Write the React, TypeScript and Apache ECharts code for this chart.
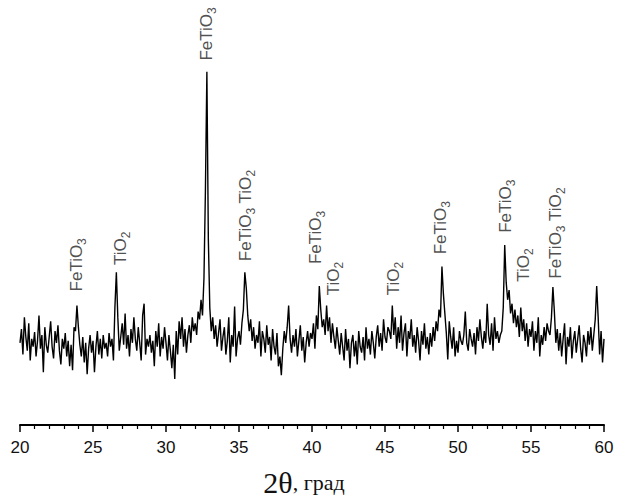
import React, { useEffect, useRef } from "react";
import * as echarts from "echarts";

// 2θ scan: start and step (degrees)
const angleStart = 20;
const angleStep = 0.1;

// Intensity (arbitrary units), one row per degree
const intensity: number[] = [
  84, 98, 72, 110, 90, 76, 104, 66, 88, 80,
  95, 70, 86, 112, 78, 92, 54, 100, 82, 74,
  90, 106, 80, 68, 96, 84, 102, 76, 62, 88,
  78, 94, 70, 86, 60, 82, 56, 100, 96, 122,
  100, 82, 70, 90, 64, 84, 52, 78, 92, 74,
  86, 54, 80, 96, 72, 88, 68, 92, 78, 84,
  70, 94, 80, 88, 66, 120, 156, 110, 76, 90,
  104, 82, 114, 78, 92, 70, 98, 84, 110, 88,
  76, 100, 84, 66, 112, 124, 72, 88, 80, 92,
  74, 86, 60, 96, 80, 104, 70, 90, 78, 100,
  84, 66, 92, 76, 58, 82, 47, 96, 72, 106,
  88, 110, 80, 98, 74, 92, 102, 84, 110, 96,
  104, 92, 116, 108, 128, 112, 150, 240, 361, 190,
  120, 96, 110, 88, 102, 80, 94, 108, 76, 90,
  100, 72, 86, 110, 64, 92, 80, 121, 70, 88,
  96, 82, 104, 118, 156, 140, 112, 96, 108, 86,
  100, 78, 92, 84, 106, 70, 96, 88, 74, 102,
  82, 90, 66, 98, 80, 72, 94, 60, 70, 51,
  78, 96, 84, 100, 122, 88, 74, 92, 80, 98,
  70, 86, 102, 76, 90, 64, 84, 96, 80, 94,
  88, 104, 78, 112, 98, 142, 118, 100, 108, 92,
  122, 96, 110, 84, 104, 90, 78, 100, 86, 72,
  94, 80, 66, 98, 76, 88, 58, 84, 92, 70,
  86, 62, 96, 80, 74, 90, 66, 100, 78, 88,
  72, 96, 84, 68, 90, 102, 80, 94, 76, 108,
  90, 84, 100, 96, 88, 122, 92, 110, 78, 100,
  84, 112, 76, 94, 104, 70, 96, 88, 108, 80,
  92, 74, 100, 86, 66, 96, 82, 104, 78, 90,
  72, 94, 80, 100, 86, 106, 96, 118, 110, 162,
  134, 114, 94, 67, 106, 90, 78, 100, 70, 86,
  74, 96, 86, 82, 92, 116, 84, 76, 98, 88,
  80, 94, 72, 100, 86, 108, 90, 78, 96, 84,
  124, 92, 82, 104, 76, 110, 88, 96, 84, 92,
  96, 120, 184, 146, 128, 138, 114, 124, 104, 118,
  100, 112, 90, 120, 96, 108, 86, 104, 80, 98,
  90, 106, 76, 96, 84, 110, 70, 92, 82, 100,
  86, 104, 96, 92, 110, 141, 116, 84, 98, 76,
  94, 70, 88, 104, 62, 90, 80, 100, 68, 86,
  96, 74, 88, 102, 78, 64, 92, 84, 70, 96,
  82, 100, 76, 92, 108, 142, 110, 72, 96, 64,
  88,
];

// Phase labels
const peakAngles = [24.0, 27.0, 32.9, 35.6, 40.4, 41.6, 45.75, 48.95, 53.4, 54.6, 56.8];
const peakLabelBase = [136, 163, 372, 167, 164, 132, 132, 174, 196, 146, 149];
const peakPhases = [
  "FeTiO3",
  "TiO2",
  "FeTiO3",
  "FeTiO3 TiO2",
  "FeTiO3",
  "TiO2",
  "TiO2",
  "FeTiO3",
  "FeTiO3",
  "TiO2",
  "FeTiO3 TiO2",
];

const xTicks = { min: 20, max: 60, interval: 5 };
const axisTitleMain = "2θ";
const axisTitleUnit = ", град";

function toRich(s: string): string {
  const parts = s.match(/([^0-9]+|[0-9]+)/g) || [];
  return parts
    .map((p) => (/^[0-9]+$/.test(p) ? `{s|${p}}` : `{m|${p}}`))
    .join("");
}

export default function App() {
  const ref = useRef<HTMLDivElement>(null);
  useEffect(() => {
    if (!ref.current) return;
    const chart = echarts.init(ref.current, undefined, { renderer: "svg" });
    const lineData = intensity.map((v, i) => [
      Math.round((angleStart + i * angleStep) * 100) / 100,
      v,
    ]);
    const sans = "'Liberation Sans', Arial, sans-serif";
    const serif = "'Liberation Serif', 'Times New Roman', serif";
    chart.setOption({
      animation: false,
      backgroundColor: "#ffffff",
      grid: { left: 20, right: 15, top: 20, bottom: 68 },
      xAxis: {
        type: "value",
        min: xTicks.min,
        max: xTicks.max,
        interval: xTicks.interval,
        axisLine: { show: true, onZero: false, lineStyle: { color: "#000", width: 2 } },
        axisTick: { show: true, length: 7, lineStyle: { color: "#000", width: 1.5 } },
        minorTick: { show: true, splitNumber: 5, length: 4, lineStyle: { color: "#000", width: 1.2 } },
        splitLine: { show: false },
        minorSplitLine: { show: false },
        axisLabel: { color: "#111", fontSize: 17, fontFamily: sans, margin: 14 },
        name: `{a|${axisTitleMain}}{b|${axisTitleUnit}}`,
        nameLocation: "middle",
        nameGap: 42,
        nameTextStyle: {
          padding: [0, 16, 0, 0],
          rich: {
            a: { fontSize: 30, fontFamily: serif, color: "#111" },
            b: { fontSize: 22, fontFamily: serif, color: "#111" },
          },
        },
      },
      yAxis: { type: "value", min: 0, max: 414, show: false },
      series: [
        {
          type: "line",
          data: lineData,
          showSymbol: false,
          symbol: "none",
          lineStyle: { color: "#000", width: 1.4 },
          silent: true,
        },
        {
          type: "scatter",
          symbolSize: 1,
          itemStyle: { color: "rgba(0,0,0,0)" },
          silent: true,
          data: peakAngles.map((a, i) => ({
            value: [a, peakLabelBase[i]],
            label: { formatter: toRich(peakPhases[i]) },
          })),
          label: {
            show: true,
            rotate: 90,
            position: [0, 0],
            align: "left",
            verticalAlign: "middle",
            color: "#222",
            rich: {
              m: { fontSize: 17, lineHeight: 19, verticalAlign: "top", fontFamily: sans, color: "#222" },
              s: { fontSize: 12, padding: [8, 0, 0, 0], verticalAlign: "bottom", fontFamily: sans, color: "#222" },
            },
          },
        },
      ],
    });
    return () => chart.dispose();
  }, []);
  return (
    <div
      ref={ref}
      style={{ position: "fixed", left: 0, top: 0, width: 619, height: 502, background: "#fff" }}
    />
  );
}
